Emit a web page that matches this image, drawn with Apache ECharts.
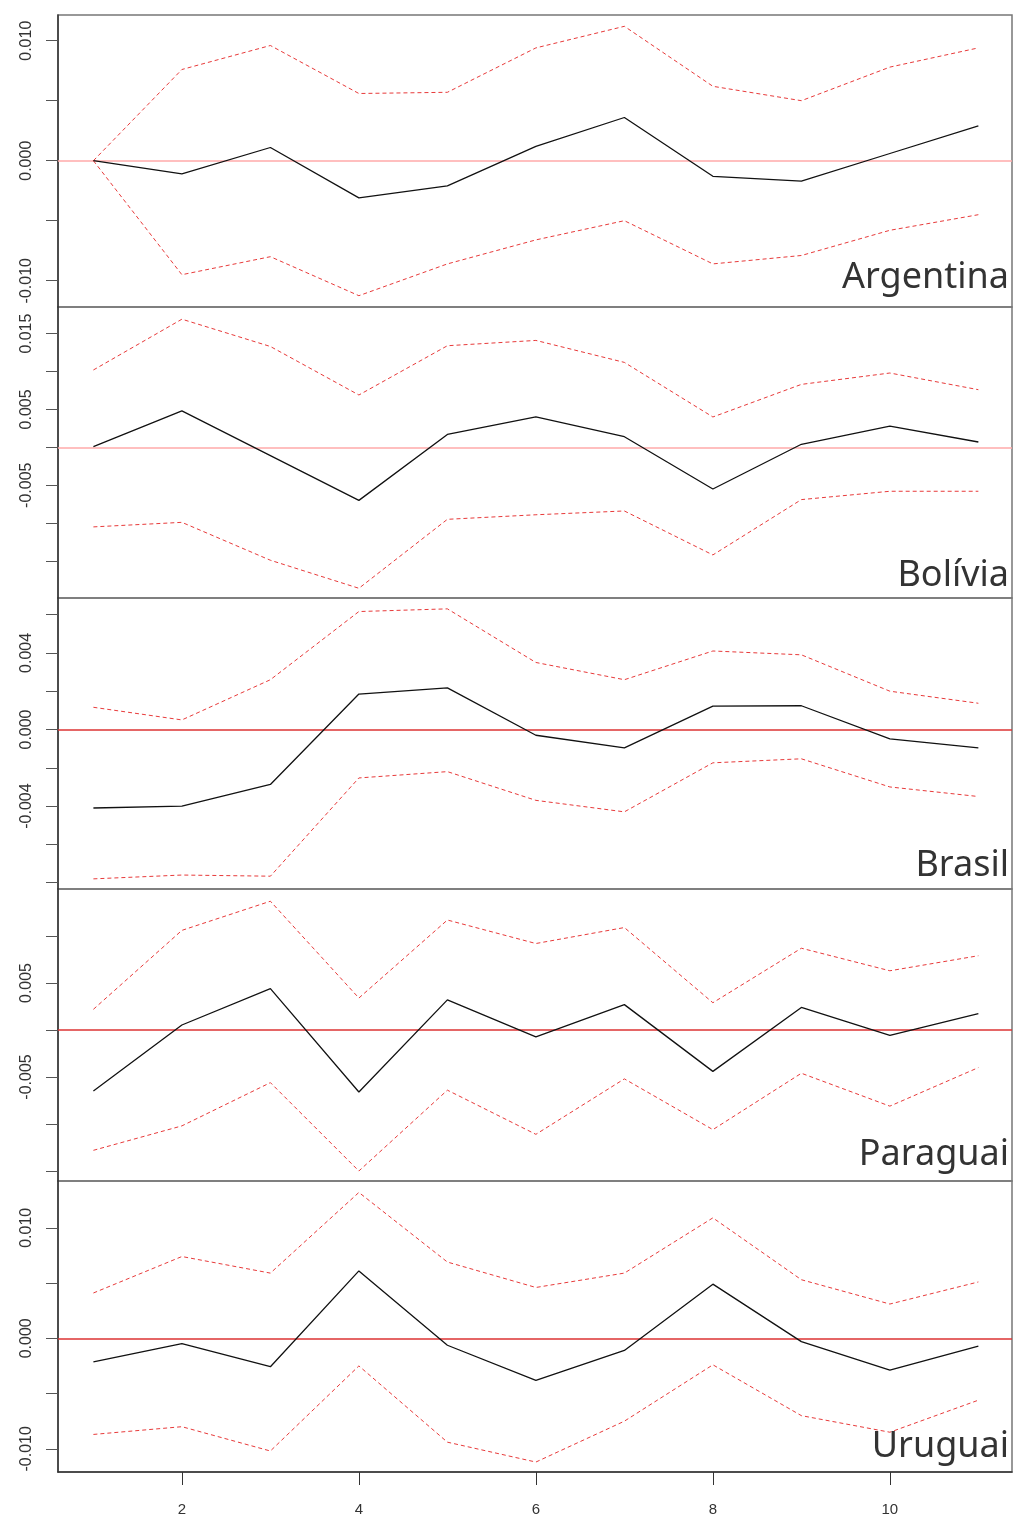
<!DOCTYPE html>
<html>
<head>
<meta charset="utf-8">
<title>Impulse responses</title>
<script src="https://cdn.jsdelivr.net/npm/echarts@6/dist/echarts.min.js"></script>
<style>
  html, body { margin: 0; padding: 0; background: #fff; }
  #chart { width: 1014px; height: 1521px; }
</style>
</head>
<body>
<div id="chart"></div>
<script>
// Horizon steps shared by every panel
const steps = [1, 2, 3, 4, 5, 6, 7, 8, 9, 10, 11];
const countries = ['Argentina', 'Bolívia', 'Brasil', 'Paraguai', 'Uruguai'];

// Argentina
const argIrf   = [0, -0.0011, 0.0011, -0.0031, -0.0021, 0.0012, 0.0036, -0.0013, -0.0017, 0.0006, 0.0029];
const argUpper = [0, 0.0076, 0.0096, 0.0056, 0.0057, 0.0094, 0.0112, 0.0062, 0.0050, 0.0078, 0.0094];
const argLower = [0, -0.0095, -0.0080, -0.01125, -0.0086, -0.0066, -0.0050, -0.0086, -0.0079, -0.0058, -0.0045];

// Bolívia
const bolIrf   = [0.0001, 0.0048, -0.0011, -0.0070, 0.0017, 0.0040, 0.0014, -0.0055, 0.0004, 0.0028, 0.0007];
const bolUpper = [0.0102, 0.0169, 0.0133, 0.0069, 0.0134, 0.0141, 0.0112, 0.0040, 0.0083, 0.0098, 0.0076];
const bolLower = [-0.0105, -0.0099, -0.0149, -0.0186, -0.0095, -0.0089, -0.0084, -0.0142, -0.0069, -0.0058, -0.0058];

// Brasil
const braIrf   = [-0.0041, -0.0040, -0.00287, 0.00185, 0.00217, -0.0003, -0.00096, 0.00122, 0.00124, -0.00049, -0.00096];
const braUpper = [0.00116, 0.0005, 0.0026, 0.00616, 0.0063, 0.0035, 0.0026, 0.0041, 0.0039, 0.0020, 0.00137];
const braLower = [-0.0078, -0.0076, -0.00766, -0.00253, -0.0022, -0.0037, -0.0043, -0.00174, -0.00153, -0.0030, -0.0035];

// Paraguai
const parIrf   = [-0.0065, 0.00053, 0.0044, -0.0066, 0.0032, -0.00074, 0.0027, -0.0044, 0.0024, -0.00056, 0.00174];
const parUpper = [0.0022, 0.0106, 0.0137, 0.0034, 0.0117, 0.0092, 0.0109, 0.0029, 0.0087, 0.0063, 0.0079];
const parLower = [-0.0128, -0.0102, -0.0056, -0.0150, -0.0064, -0.0111, -0.0052, -0.0106, -0.0046, -0.0081, -0.0040];

// Uruguai
const uruIrf   = [-0.00214, -0.00049, -0.00257, 0.0061, -0.00063, -0.0038, -0.0011, 0.0049, -0.0003, -0.00287, -0.0007];
const uruUpper = [0.0041, 0.0074, 0.0059, 0.0132, 0.0069, 0.0046, 0.0059, 0.0109, 0.0053, 0.0031, 0.0051];
const uruLower = [-0.0087, -0.0080, -0.0102, -0.0025, -0.0094, -0.0112, -0.0075, -0.0024, -0.0070, -0.0085, -0.0056];

// Y-axis tick marks and labelled ticks per panel
const argTicks  = [-0.010, -0.005, 0, 0.005, 0.010];
const argLabels = [-0.010, 0, 0.010];
const bolTicks  = [-0.015, -0.010, -0.005, 0, 0.005, 0.010, 0.015];
const bolLabels = [-0.005, 0.005, 0.015];
const braTicks  = [-0.008, -0.006, -0.004, -0.002, 0, 0.002, 0.004, 0.006];
const braLabels = [-0.004, 0, 0.004];
const parTicks  = [-0.015, -0.010, -0.005, 0, 0.005, 0.010];
const parLabels = [-0.005, 0.005];
const uruTicks  = [-0.010, -0.005, 0, 0.005, 0.010];
const uruLabels = [-0.010, 0, 0.010];

// Y-axis ranges per panel
const argRange = [-0.012192, 0.012142];
const bolRange = [-0.019881, 0.018509];
const braRange = [-0.008329, 0.006867];
const parRange = [-0.016064, 0.015000];
const uruRange = [-0.012100, 0.014235];

// X-axis
const xRange = [0.6, 11.38];
const xTicks = [2, 4, 6, 8, 10];

const panels = [
  { name: countries[0], irf: argIrf, upper: argUpper, lower: argLower, ticks: argTicks, labels: argLabels, range: argRange },
  { name: countries[1], irf: bolIrf, upper: bolUpper, lower: bolLower, ticks: bolTicks, labels: bolLabels, range: bolRange },
  { name: countries[2], irf: braIrf, upper: braUpper, lower: braLower, ticks: braTicks, labels: braLabels, range: braRange },
  { name: countries[3], irf: parIrf, upper: parUpper, lower: parLower, ticks: parTicks, labels: parLabels, range: parRange },
  { name: countries[4], irf: uruIrf, upper: uruUpper, lower: uruLower, ticks: uruTicks, labels: uruLabels, range: uruRange }
];

// Panel layout (pixels)
const panelTops    = [15, 307, 598, 889, 1181];
const panelHeights = [292, 291, 291, 292, 291];
const zeroColors   = ['#ffaaaa', '#ffaaaa', '#dd3333', '#dd3333', '#dd3333'];
const nameBaselineGap = [17, 10, 11, 14, 13];

const pairs = (ys) => steps.map((s, i) => [s, ys[i]]);

const grids = [], xAxes = [], yAxes = [], series = [], graphics = [];

panels.forEach((p, k) => {
  const last = k === panels.length - 1;
  grids.push({
    left: 58, right: 2, top: panelTops[k], height: panelHeights[k],
    show: true, borderColor: '#777', borderWidth: 1.5, backgroundColor: 'transparent'
  });
  xAxes.push({
    gridIndex: k, type: 'value', min: xRange[0], max: xRange[1],
    splitLine: { show: false },
    axisLine: { show: last, onZero: false, lineStyle: { color: '#333', width: 1.5 } },
    axisTick: { show: last, length: 13, customValues: xTicks, lineStyle: { color: '#333', width: 1 } },
    axisLabel: {
      show: last, customValues: xTicks, margin: 30,
      fontFamily: 'Liberation Sans', fontSize: 15, color: '#333'
    }
  });
  yAxes.push({
    gridIndex: k, type: 'value', min: p.range[0], max: p.range[1],
    splitLine: { show: false },
    axisLine: { show: true, onZero: false, lineStyle: { color: '#333', width: 1.5 } },
    axisTick: { show: true, length: 12, customValues: p.ticks, lineStyle: { color: '#555', width: 1 } },
    axisLabel: {
      show: true, customValues: p.labels, rotate: 90, margin: 23,
      fontFamily: 'Liberation Sans', fontSize: 16, color: '#333',
      formatter: (v) => Number(v).toFixed(3)
    }
  });

  const dashed = { color: '#e83a3a', width: 1, type: [4, 3] };
  series.push({
    type: 'line', xAxisIndex: k, yAxisIndex: k, data: pairs(p.upper),
    showSymbol: false, silent: true, lineStyle: dashed, z: 3
  });
  series.push({
    type: 'line', xAxisIndex: k, yAxisIndex: k, data: pairs(p.lower),
    showSymbol: false, silent: true, lineStyle: dashed, z: 3
  });
  series.push({
    type: 'line', xAxisIndex: k, yAxisIndex: k, data: pairs(p.irf),
    showSymbol: false, silent: true, lineStyle: { color: '#111', width: 1.3 }, z: 4,
    markLine: {
      silent: true, symbol: 'none', label: { show: false },
      lineStyle: { color: zeroColors[k], width: 1.5, type: 'solid' },
      data: [{ yAxis: 0 }], z: 2
    }
  });

  const bottom = panelTops[k] + panelHeights[k];
  graphics.push({
    type: 'text', right: 5, top: bottom - nameBaselineGap[k] - 30,
    style: {
      text: p.name, fontFamily: 'Noto Sans', fontSize: 36, fill: '#333'
    }, z: 10
  });
});

const chart = echarts.init(document.getElementById('chart'), null, { renderer: 'canvas' });
chart.setOption({
  animation: false,
  backgroundColor: '#fff',
  grid: grids,
  xAxis: xAxes,
  yAxis: yAxes,
  series: series,
  graphic: graphics
});
</script>
</body>
</html>
